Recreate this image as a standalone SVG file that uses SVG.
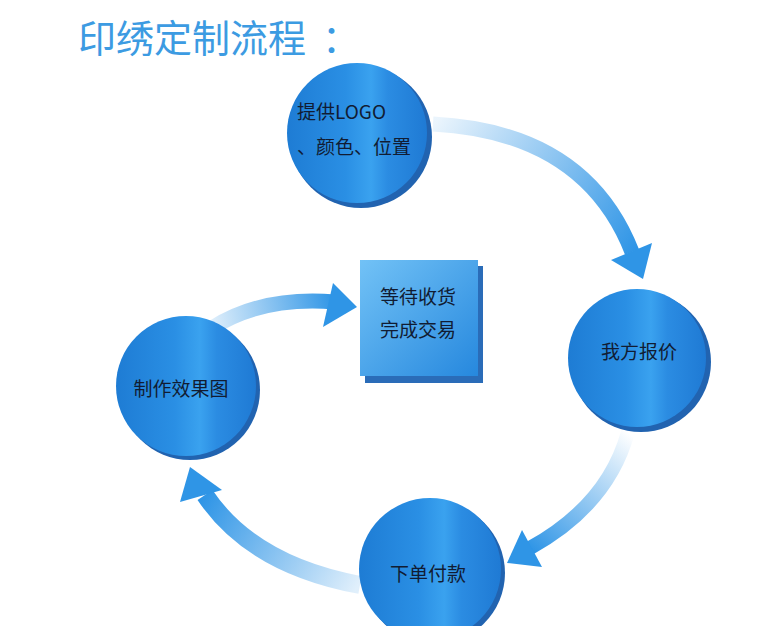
<svg xmlns="http://www.w3.org/2000/svg" width="758" height="626" viewBox="0 0 758 626">
<defs>
<style>
.t{font-family:"Noto Sans CJK SC","Liberation Sans",sans-serif;fill:#111c33;font-size:19px}
.title{font-family:"Noto Sans CJK SC",sans-serif;fill:#3c9be2;font-size:38px}
.rim{fill:#2163b0}
.ball{fill:url(#ballg)}
.head{fill:#2f95e6}
</style>
<linearGradient id="ballg" x1="0" y1="0" x2="1" y2="0">
<stop offset="0" stop-color="#1e7cd4"/>
<stop offset="0.42" stop-color="#2a8fe4"/>
<stop offset="0.6" stop-color="#3aa2ef"/>
<stop offset="0.72" stop-color="#2b8ce2"/>
<stop offset="1" stop-color="#1f7ad4"/>
</linearGradient>
<linearGradient id="sqg" x1="0" y1="0" x2="1" y2="1">
<stop offset="0" stop-color="#72c2f6"/>
<stop offset="1" stop-color="#2688de"/>
</linearGradient>
<linearGradient id="a1" gradientUnits="userSpaceOnUse" x1="435" y1="124" x2="632" y2="255">
<stop offset="0" stop-color="#2f95e6" stop-opacity="0.1"/>
<stop offset="1" stop-color="#2f95e6"/>
</linearGradient>
<linearGradient id="a2" gradientUnits="userSpaceOnUse" x1="628" y1="432" x2="530" y2="548">
<stop offset="0" stop-color="#2f95e6" stop-opacity="0"/>
<stop offset="1" stop-color="#2f95e6"/>
</linearGradient>
<linearGradient id="a3" gradientUnits="userSpaceOnUse" x1="358" y1="585" x2="205" y2="495">
<stop offset="0" stop-color="#2f95e6" stop-opacity="0.15"/>
<stop offset="1" stop-color="#2f95e6"/>
</linearGradient>
<linearGradient id="a4" gradientUnits="userSpaceOnUse" x1="212" y1="328" x2="335" y2="302">
<stop offset="0" stop-color="#2f95e6" stop-opacity="0.15"/>
<stop offset="1" stop-color="#2f95e6"/>
</linearGradient>
</defs>
<rect width="758" height="626" fill="#fff"/>
<text class="title" x="78" y="52">印绣定制流程<tspan x="322">：</tspan></text>
<g id="connectors">
<path d="M433,124 Q585,132 632,252" fill="none" stroke="url(#a1)" stroke-width="15"/>
<polygon class="head" points="643,279 611,260 652,243"/>
<path d="M628,432 Q608,505 530,548" fill="none" stroke="url(#a2)" stroke-width="14"/>
<polygon class="head" points="507,563 522,530 542,567"/>
<path d="M360,585 Q252,565 205,495" fill="none" stroke="url(#a3)" stroke-width="18"/>
<polygon class="head" points="190,467 180,502 222,490"/>
<path d="M212,328 Q262,296 335,302" fill="none" stroke="url(#a4)" stroke-width="15"/>
<polygon class="head" points="357,307 333,283 323,327"/>
</g>
<g id="n1">
<circle class="rim" cx="361" cy="137" r="71"/>
<circle class="ball" cx="357" cy="133" r="70"/>
<text class="t" x="297" y="119">提供LOGO</text>
<text class="t" x="297" y="154">、颜色、位置</text>
</g>
<g id="n2">
<circle class="rim" cx="641" cy="362" r="70"/>
<circle class="ball" cx="637" cy="358" r="69"/>
<text class="t" x="639" y="359" text-anchor="middle">我方报价</text>
</g>
<g id="n3">
<circle class="rim" cx="190" cy="390" r="70"/>
<circle class="ball" cx="186" cy="386" r="70"/>
<text class="t" x="181" y="396" text-anchor="middle">制作效果图</text>
</g>
<g id="n4">
<circle class="rim" cx="434" cy="573" r="71"/>
<circle class="ball" cx="430" cy="569" r="71"/>
<text class="t" x="428" y="581" text-anchor="middle">下单付款</text>
</g>
<g id="n5">
<rect x="365" y="266" width="118" height="117" fill="#2a6cb8"/>
<rect x="360" y="260" width="118" height="116" fill="url(#sqg)"/>
<text class="t" x="418" y="304" text-anchor="middle">等待收货</text>
<text class="t" x="418" y="337" text-anchor="middle">完成交易</text>
</g>
</svg>
